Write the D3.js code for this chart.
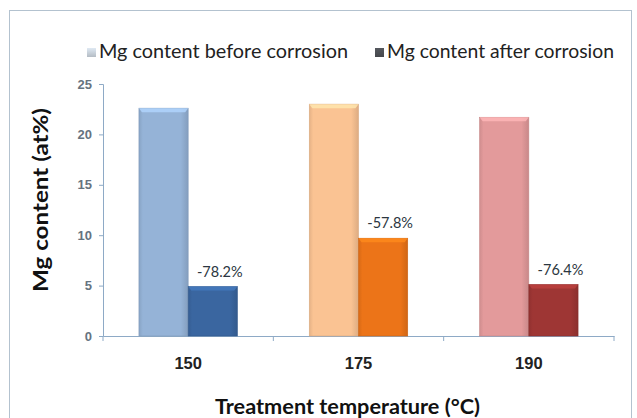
<!DOCTYPE html>
<meta charset="utf-8">
<title>Mg content</title>

<style>

html, body {
  margin: 0;
  padding: 0;
  width: 637px;
  height: 418px;
  background: #fff;
  overflow: hidden;
}

svg {
  display: block;
  font-family: Lato, "Open Sans", sans-serif;
}

.axis path, .axis line {
  stroke: #8eaac6;
  stroke-width: 1;
}

.y.axis text {
  fill: #66737f;
  font-size: 13px;
  font-weight: bold;
}

.x.axis text {
  fill: #222;
  font-size: 16.5px;
  font-weight: bold;
}

.title {
  font-weight: bold;
  font-size: 21px;
  fill: #111;
}

.legend text {
  font-size: 19px;
  fill: #222;
}

.pct {
  font-size: 14.5px;
  fill: #2b3640;
  text-anchor: middle;
  paint-order: stroke;
  stroke: #fff;
  stroke-width: 3px;
}

</style>

<body>
<svg width="637" height="418"></svg>
</body>

<script src="https://cdnjs.cloudflare.com/ajax/libs/d3/7.8.5/d3.min.js"></script>
<script>

// treatment temperatures (°C)
var temps = ['150', '175', '190'];
// Mg content (at%) before / after corrosion
var before = [22.6, 23.0, 21.7];
var after = [4.9, 9.7, 5.1];
var change = ['-78.2%', '-57.8%', '-76.4%'];
var series = ['Mg content before corrosion', 'Mg content after corrosion'];
var yTicks = [0, 5, 10, 15, 20, 25];

// colours per temperature: [before, after]
var colors = [
  ['#95b3d7', '#3a66a0'],
  ['#fac393', '#ec7418'],
  ['#e39a9b', '#9e3634']
];
var legendColors = ['#b4bcc4', '#45474c'];

var svg = d3.select('svg');

var x = d3.scaleBand()
    .domain(temps)
    .range([103, 614]);

var xs = d3.scaleBand()
    .domain([0, 1])
    .range([0, x.bandwidth()])
    .paddingOuter(0.73);

var y = d3.scaleLinear()
    .domain([0, 25])
    .range([336, 84]);

// frame
svg.append('rect')
    .attr('x', 9.5)
    .attr('y', 10.5)
    .attr('width', 622)
    .attr('height', 420)
    .attr('fill', '#fff')
    .attr('stroke', '#b3c2cf');

// gradients
var defs = svg.append('defs');
function shade(c, k) {
  return d3.color(c).darker(k).formatHex();
}
colors.forEach(function(pair, i) {
  pair.forEach(function(c, j) {
    var g = defs.append('linearGradient')
        .attr('id', 'g' + i + '_' + j)
        .attr('x1', 0).attr('x2', 1).attr('y1', 0).attr('y2', 0);
    g.append('stop').attr('offset', '0%').attr('stop-color', shade(c, 0.25));
    g.append('stop').attr('offset', '8%').attr('stop-color', c);
    g.append('stop').attr('offset', '85%').attr('stop-color', c);
    g.append('stop').attr('offset', '100%').attr('stop-color', shade(c, 0.35));
  });
});
legendColors.forEach(function(c, j) {
  var g = defs.append('linearGradient')
      .attr('id', 'lg' + j)
      .attr('x1', 0).attr('x2', 0).attr('y1', 0).attr('y2', 1);
  g.append('stop').attr('offset', '0%').attr('stop-color', d3.color(c).brighter(0.6).formatHex());
  g.append('stop').attr('offset', '100%').attr('stop-color', c);
});

// axes
svg.append('g')
    .attr('class', 'y axis')
    .attr('transform', 'translate(103,0)')
    .call(d3.axisLeft(y).tickValues(yTicks).tickSize(4).tickSizeOuter(4).tickPadding(7));

svg.append('g')
    .attr('class', 'x axis')
    .attr('transform', 'translate(0,336)')
    .call(d3.axisBottom(x).tickSize(0).tickPadding(0))
    .call(function(g) {
      g.selectAll('.tick text').attr('dy', 0).attr('y', 33);
      g.selectAll('.sep')
        .data([103].concat(temps.map(function(t) { return x(t) + x.bandwidth(); })))
        .enter().append('line')
          .attr('class', 'sep')
          .attr('x1', function(d) { return d; })
          .attr('x2', function(d) { return d; })
          .attr('y1', 0)
          .attr('y2', 5);
    });

// bars
var groups = svg.append('g')
    .selectAll('g')
    .data(temps)
    .enter().append('g')
      .attr('transform', function(d) { return 'translate(' + x(d) + ',0)'; });

groups.each(function(t, i) {
  var g = d3.select(this);
  var vals = [before[i], after[i]];
  vals.forEach(function(v, j) {
    var bx = xs(j), bw = xs.bandwidth(), by = y(v), bh = y(0) - y(v);
    g.append('rect')
        .attr('x', bx)
        .attr('y', by)
        .attr('width', bw)
        .attr('height', bh)
        .attr('fill', 'url(#g' + i + '_' + j + ')')
        .attr('stroke', shade(colors[i][j], 0.4))
        .attr('stroke-width', 0.6);
    // bevel on top
    g.append('path')
        .attr('d', 'M' + bx + ',' + by + 'h' + bw + 'l-3,4h' + (6 - bw) + 'z')
        .attr('fill', d3.color(colors[i][j]).brighter(0.5).formatHex())
        .attr('opacity', 0.8);
  });
  g.append('text')
      .attr('class', 'pct')
      .attr('x', xs(1) + xs.bandwidth() / 2 + 7)
      .attr('y', y(after[i]) - 10)
      .text(change[i]);
});

// legend
var legend = svg.append('g')
    .attr('class', 'legend')
    .attr('transform', 'translate(0,58)');
var lx = [87, 375];
var lw = [249, 227];
series.forEach(function(s, j) {
  legend.append('rect')
      .attr('x', lx[j])
      .attr('y', -10)
      .attr('width', 9)
      .attr('height', 9)
      .attr('fill', 'url(#lg' + j + ')');
  legend.append('text')
      .attr('x', lx[j] + 12)
      .attr('textLength', lw[j])
      .attr('lengthAdjust', 'spacingAndGlyphs')
      .text(s);
});

// axis titles
svg.append('text')
    .attr('class', 'title')
    .attr('x', 215)
    .attr('y', 414)
    .attr('textLength', 265)
    .attr('lengthAdjust', 'spacingAndGlyphs')
    .text('Treatment temperature (°C)');

svg.append('text')
    .attr('class', 'title')
    .attr('transform', 'translate(48,292) rotate(-90)')
    .attr('textLength', 184)
    .attr('lengthAdjust', 'spacingAndGlyphs')
    .text('Mg content (at%)');

</script>
